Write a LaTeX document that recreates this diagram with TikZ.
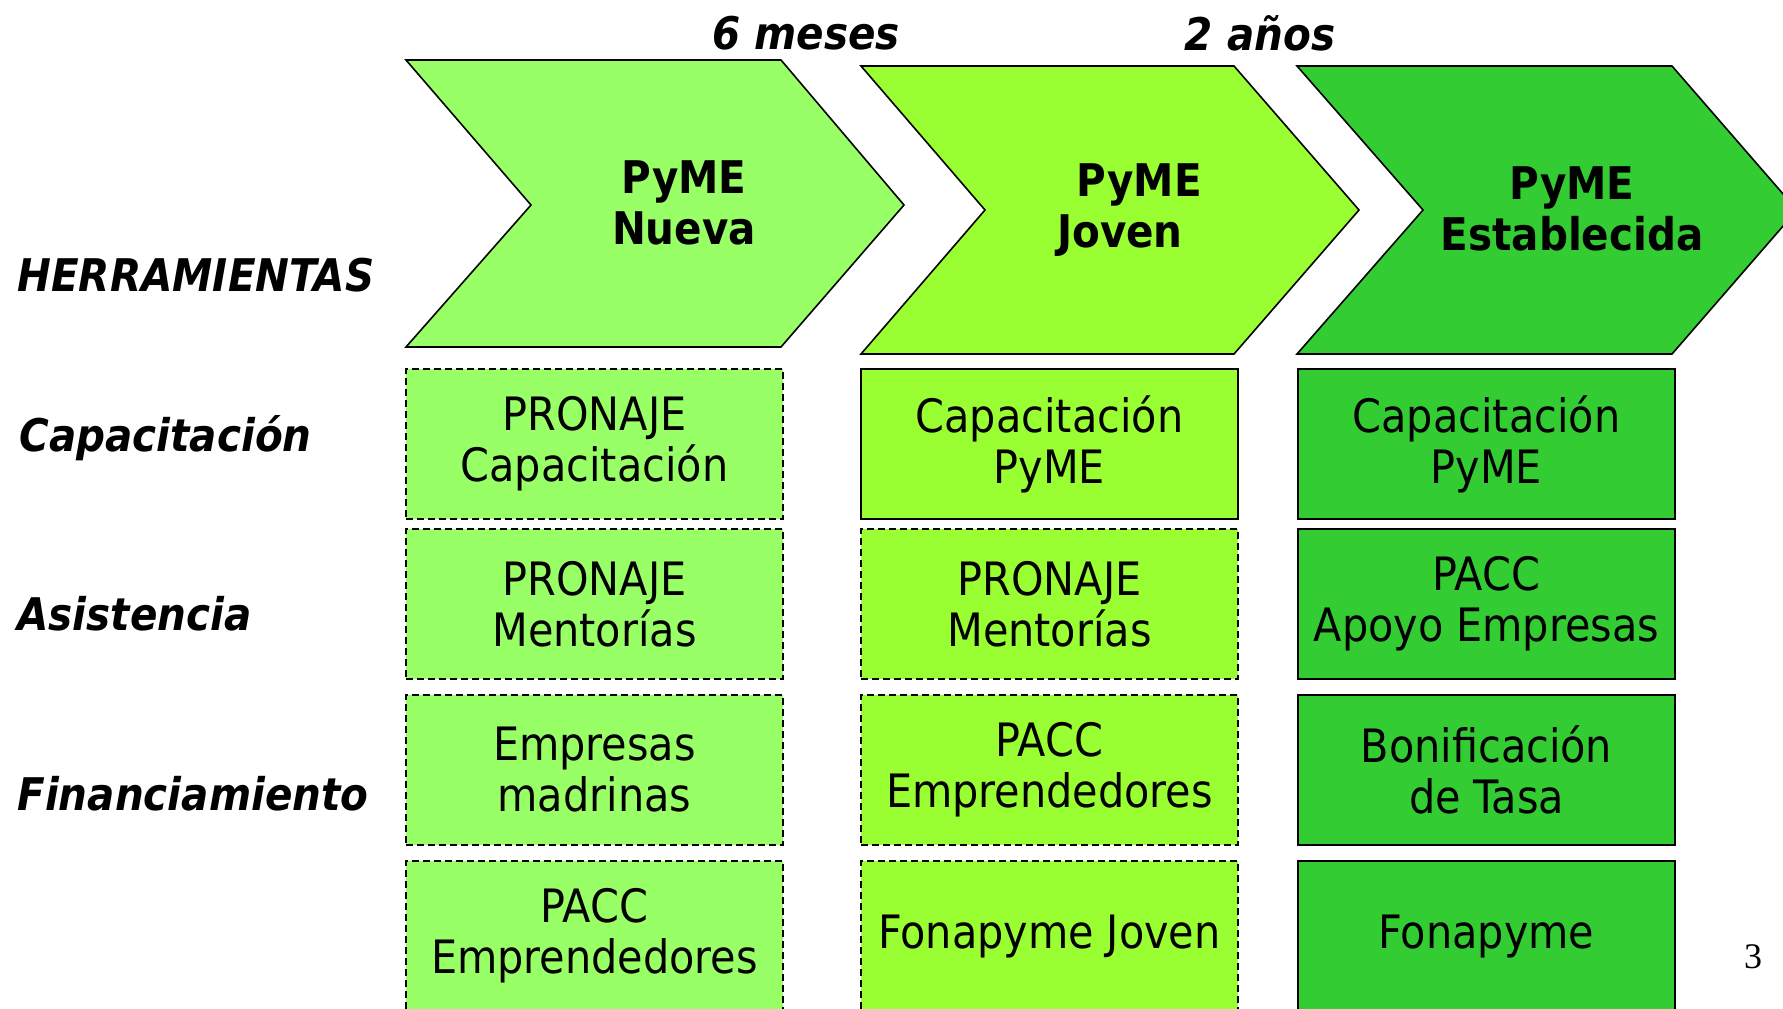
\documentclass[tikz,border=0pt]{standalone}
\usepackage{fontspec}
\setmainfont{DejaVu Sans Condensed}
\newfontfamily\pagfont{Liberation Serif}

\definecolor{nueva}{HTML}{99FF66}
\definecolor{joven}{HTML}{99FF33}
\definecolor{establ}{HTML}{33CC33}

\tikzset{
  etapa/.style={draw, line width=0.8pt},
  caja/.style={draw, line width=1pt, minimum width=188.5pt, minimum height=75pt,
    inner sep=0pt, align=center, font=\fontsize{23}{25.5}\selectfont},
  cajad/.style={caja, dash pattern=on 3.5pt off 2pt, line width=0.8pt},
  rotulo/.style={anchor=west, inner sep=0pt, font=\bfseries\itshape\fontsize{22.5}{25.5}\selectfont},
  titulo/.style={align=center, inner sep=0pt, font=\bfseries\fontsize{22.5}{25.5}\selectfont},
}

\begin{document}
\begin{tikzpicture}[x=0.5pt, y=-0.5pt]
  \useasboundingbox (0,0) rectangle (1783,1008);

  % etapas
  \draw[etapa, fill=nueva] (406,60) -- (781,60) -- (904,205) -- (781,347) -- (406,347) -- (531,205) -- cycle;
  \draw[etapa, fill=joven] (861,66) -- (1234,66) -- (1359,210) -- (1234,354) -- (861,354) -- (985,210) -- cycle;
  \begin{scope}
    \clip (0,0) rectangle (1783,1008);
    \draw[etapa, fill=establ] (1297,66) -- (1672,66) -- (1797,210) -- (1672,354) -- (1297,354) -- (1423,210) -- cycle;
  \end{scope}

  \node[titulo] (nueva) at (684,203) {PyME\\Nueva};
  \node[titulo] (joven) at (1120,210) {\hspace{0.86em}PyME\\Joven};
  \node[titulo] (establ) at (1572,209) {PyME\\Establecida};

  \node[rotulo, anchor=center] (meses) at (806,33) {6 meses};
  \node[rotulo, anchor=center] (anos) at (1260,33) {2 años};

  % filas
  \node[rotulo] (herr) at (17,275) {HERRAMIENTAS};
  \node[rotulo] (capac) at (19,438) {Capacitación};
  \node[rotulo] (asist) at (17,614) {Asistencia};
  \node[rotulo] (financ) at (17,794) {Financiamiento};

  % PyME nueva
  \node[cajad, fill=nueva] (n-1) at (594.5,444) {PRONAJE\\Capacitación};
  \node[cajad, fill=nueva] (n-2) at (594.5,604) {PRONAJE\\Mentorías};
  \node[cajad, fill=nueva] (n-3) at (594.5,770) {Empresas\\madrinas};
  \node[cajad, fill=nueva] (n-4) at (594.5,936) {PACC\\Emprendedores};

  % PyME joven
  \node[caja, fill=joven] (j-1) at (1049.5,444) {Capacitación\\PyME};
  \node[cajad, fill=joven] (j-2) at (1049.5,604) {PRONAJE\\Mentorías};
  \node[cajad, fill=joven] (j-3) at (1049.5,770) {PACC\\Emprendedores};
  \node[cajad, fill=joven] (j-4) at (1049.5,936) {Fonapyme Joven};

  % PyME establecida
  \node[caja, fill=establ] (e-1) at (1486.5,444) {Capacitación\\PyME};
  \node[caja, fill=establ] (e-2) at (1486.5,604) {PACC\\Apoyo Empresas};
  \node[caja, fill=establ] (e-3) at (1486.5,770) {Bonificación\\de Tasa};
  \node[caja, fill=establ] (e-4) at (1486.5,936) {Fonapyme};

  \node[font=\pagfont\fontsize{18}{20}\selectfont] (pag) at (1753,957) {3};
\end{tikzpicture}
\end{document}
